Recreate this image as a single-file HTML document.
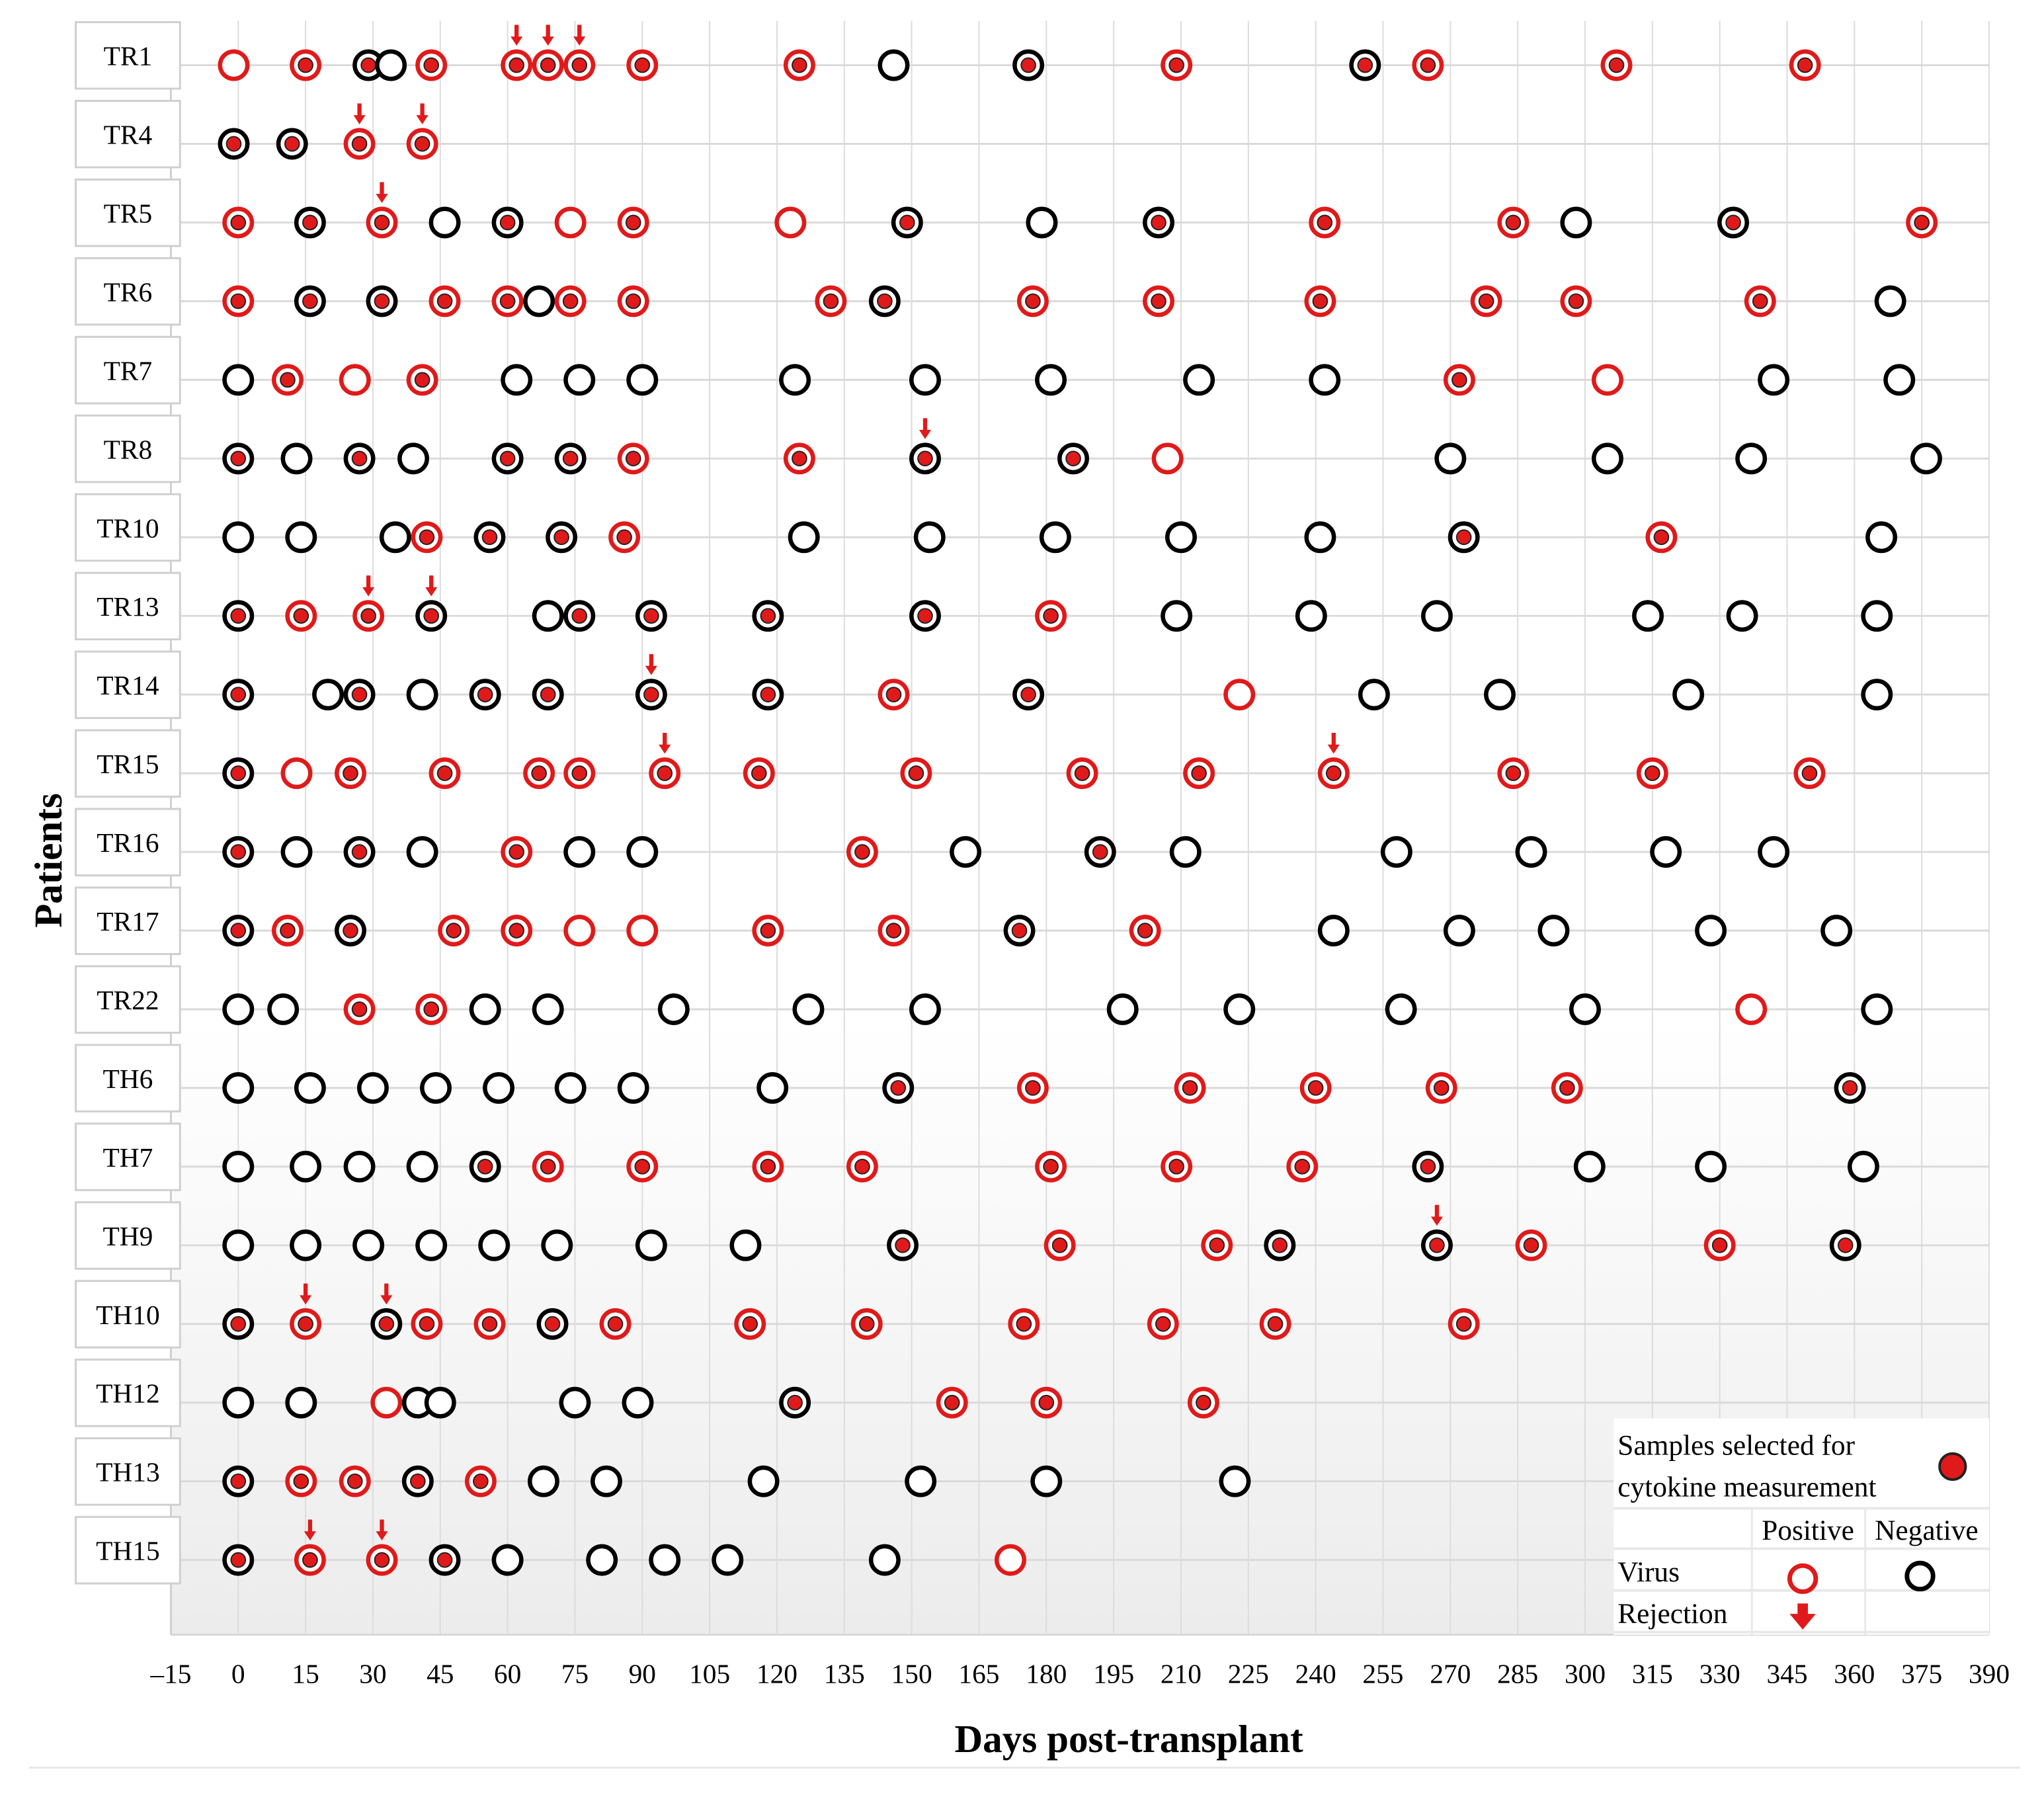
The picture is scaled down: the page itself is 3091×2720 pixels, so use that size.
<!DOCTYPE html>
<html><head><meta charset="utf-8"><style>
html,body{margin:0;padding:0;background:#fff}
svg{display:block}
text{font-family:"Liberation Serif",serif}
</style></head><body>
<svg id="chart" width="3091" height="2720" viewBox="0 0 1568 1380" xmlns="http://www.w3.org/2000/svg">
<defs>
<linearGradient id="bg" x1="0" y1="0" x2="0" y2="1">
<stop offset="0" stop-color="#ffffff"/><stop offset="0.62" stop-color="#ffffff"/><stop offset="1" stop-color="#ececec"/>
</linearGradient>
</defs>
<rect x="131" y="16" width="1395" height="1238" fill="url(#bg)"/>
<g id="grid"></g>
<g id="rows"></g>
<g id="marks"></g>
<g id="xaxis"></g>
<text x="866" y="1344" text-anchor="middle" font-size="30" font-weight="bold">Days post-transplant</text>
<text x="0" y="0" transform="translate(47,660) rotate(-90)" text-anchor="middle" font-size="30" font-weight="bold">Patients</text>
<line x1="22" y1="1356" x2="1550" y2="1356" stroke="#e6e6e6" stroke-width="1.5"/>
<g>
<rect x="1238" y="1088" width="288" height="166" fill="#fff"/>
<line x1="1238" y1="1157" x2="1526" y2="1157" stroke="#e8e8e8" stroke-width="2"/>
<line x1="1238" y1="1188" x2="1526" y2="1188" stroke="#e8e8e8" stroke-width="2"/>
<line x1="1238" y1="1220" x2="1526" y2="1220" stroke="#e8e8e8" stroke-width="2"/>
<line x1="1238" y1="1252" x2="1526" y2="1252" stroke="#e8e8e8" stroke-width="2"/>
<line x1="1344" y1="1157" x2="1344" y2="1254" stroke="#e8e8e8" stroke-width="1.5"/>
<line x1="1431" y1="1157" x2="1431" y2="1254" stroke="#e8e8e8" stroke-width="1.5"/>
<text x="1241" y="1116" font-size="22">Samples selected for</text>
<text x="1241" y="1148" font-size="22">cytokine measurement</text>
<circle cx="1498" cy="1125" r="10" fill="#e01a1a" stroke="#222" stroke-width="2"/>
<text x="1387" y="1181" text-anchor="middle" font-size="22">Positive</text>
<text x="1478" y="1181" text-anchor="middle" font-size="22">Negative</text>
<text x="1241" y="1213" font-size="22">Virus</text>
<text x="1241" y="1245" font-size="22">Rejection</text>
<circle cx="1383" cy="1211" r="10" fill="#fff" stroke="#e01a1a" stroke-width="3.5"/>
<circle cx="1473" cy="1209" r="10" fill="#fff" stroke="#000" stroke-width="3.5"/>
<path d="M1379,1230 h8 v8 h6 l-10,12 l-10,-12 h6 z" fill="#e01a1a"/>
</g>
</svg>
<script>
const patients = ["TR1","TR4","TR5","TR6","TR7","TR8","TR10","TR13","TR14","TR15","TR16","TR17","TR22","TH6","TH7","TH9","TH10","TH12","TH13","TH15"];
const sampleDays = [
 [-1,15,29,34,43,62,69,76,90,125,146,176,209,251,265,307,349],
 [-1,12,27,41],
 [0,16,32,46,60,74,88,123,149,179,205,242,284,298,333,375],
 [0,16,32,46,60,67,74,88,132,144,177,205,241,278,298,339,368],
 [0,11,26,41,62,76,90,124,153,181,214,242,272,305,342,370],
 [0,13,27,39,60,74,88,125,153,186,207,270,305,337,376],
 [0,14,35,42,56,72,86,126,154,182,210,241,273,317,366],
 [0,14,29,43,69,76,92,118,153,181,209,239,267,314,335,365],
 [0,20,27,41,55,69,92,118,146,176,223,253,281,323,365],
 [0,13,25,46,67,76,95,116,151,188,214,244,284,315,350],
 [0,13,27,41,62,76,90,139,162,192,211,258,288,318,342],
 [0,11,25,48,62,76,90,118,146,174,202,244,272,293,328,356],
 [0,10,27,43,55,69,97,127,153,197,223,259,300,337,365],
 [0,16,30,44,58,74,88,119,147,177,212,240,268,296,359],
 [0,15,27,41,55,69,90,118,139,181,209,237,265,301,328,362],
 [0,15,29,43,57,71,92,113,148,183,218,232,267,288,330,358],
 [0,15,33,42,56,70,84,114,140,175,206,231,273],
 [0,14,33,40,45,75,89,124,159,180,215],
 [0,14,26,40,54,68,82,117,152,180,222],
 [0,16,32,46,60,81,95,109,144,172]
];
// P = virus positive, N = negative, PS/NS = selected for cytokine measurement
const sampleTypes = [
 ["P","PS","NS","N","PS","PS","PS","PS","PS","PS","N","NS","PS","NS","PS","PS","PS"],
 ["NS","NS","PS","PS"],
 ["PS","NS","PS","N","NS","P","PS","P","NS","N","NS","PS","PS","N","NS","PS"],
 ["PS","NS","NS","PS","PS","N","PS","PS","PS","NS","PS","PS","PS","PS","PS","PS","N"],
 ["N","PS","P","PS","N","N","N","N","N","N","N","N","PS","P","N","N"],
 ["NS","N","NS","N","NS","NS","PS","PS","NS","NS","P","N","N","N","N"],
 ["N","N","N","PS","NS","NS","PS","N","N","N","N","N","NS","PS","N"],
 ["NS","PS","PS","NS","N","NS","NS","NS","NS","PS","N","N","N","N","N","N"],
 ["NS","N","NS","N","NS","NS","NS","NS","PS","NS","P","N","N","N","N"],
 ["NS","P","PS","PS","PS","PS","PS","PS","PS","PS","PS","PS","PS","PS","PS"],
 ["NS","N","NS","N","PS","N","N","PS","N","NS","N","N","N","N","N"],
 ["NS","PS","NS","PS","PS","P","P","PS","PS","NS","PS","N","N","N","N","N"],
 ["N","N","PS","PS","N","N","N","N","N","N","N","N","N","P","N"],
 ["N","N","N","N","N","N","N","N","NS","PS","PS","PS","PS","PS","NS"],
 ["N","N","N","N","NS","PS","PS","PS","PS","PS","PS","PS","NS","N","N","N"],
 ["N","N","N","N","N","N","N","N","NS","PS","PS","NS","NS","PS","PS","NS"],
 ["NS","PS","NS","PS","PS","NS","PS","PS","PS","PS","PS","PS","PS"],
 ["N","N","P","N","N","N","N","NS","PS","PS","PS"],
 ["NS","PS","PS","NS","PS","N","N","N","N","N","N"],
 ["NS","PS","PS","NS","N","N","N","N","N","P"]
];
const rejectionDays = [[62,69,76],[27,41],[32],[],[],[153],[],[29,43],[92],[95,244],[],[],[],[],[],[267],[15,33],[],[],[32,16]];
const xTicks = [-15,0,15,30,45,60,75,90,105,120,135,150,165,180,195,210,225,240,255,270,285,300,315,330,345,360,375,390];

const NS="http://www.w3.org/2000/svg";
const RED="#e01a1a";
function x(d){return 131+(d+15)*(1395/405);}
function y(i){return 50+i*60.35;}
function mk(tag,attrs,parent){const e=document.createElementNS(NS,tag);for(const k in attrs)e.setAttribute(k,attrs[k]);parent.appendChild(e);return e;}
const grid=document.getElementById('grid'),rows=document.getElementById('rows'),marks=document.getElementById('marks'),xaxis=document.getElementById('xaxis');
xTicks.forEach(t=>{
 const l=mk('line',{x1:x(t),x2:x(t),y1:16,y2:1254,stroke:'#dcdcdc','stroke-width':1},grid);
 
 
 const tx=mk('text',{x:x(t),y:1291,'text-anchor':'middle','font-size':21},xaxis);
 
 
 tx.textContent=t<0?('\u2013'+(-t)):String(t);
});
const bl=mk('line',{x1:131,x2:1526,y1:1254,y2:1254,stroke:'#d8d8d8','stroke-width':1.5},grid);


patients.forEach((p,i)=>{
 const yy=y(i);
 const hl=mk('line',{x1:138,x2:1526,y1:yy,y2:yy,stroke:'#dadada','stroke-width':1.5},rows);
 
 
 const r=mk('rect',{x:58,y:yy-33,width:80,height:51,fill:'#fff',stroke:'#cfcfcf','stroke-width':1.5},rows);
 
 
 const t=mk('text',{x:98,y:yy,'text-anchor':'middle','font-size':21},rows);
 
 
 t.textContent=p;
 sampleDays[i].forEach((d,j)=>{
  const ty=sampleTypes[i][j];const cx=x(d);
  const col=ty[0]==='P'?RED:'#000';
  const c=mk('circle',{cx:cx,cy:yy,r:10.5,fill:'#fff',stroke:col,'stroke-width':3.3},marks);
  
  
  if(ty.length>1){
   const dot=mk('circle',{cx:cx,cy:yy,r:5.5,fill:RED,stroke:'#222','stroke-width':1},marks);
   
   
  }
 });
 rejectionDays[i].forEach(d=>{
  const cx=x(d);
  const a=mk('path',{d:`M${cx-1.6},${yy-31} h3.2 v9 h3 l-4.6,7 l-4.6,-7 h3 z`,fill:RED},marks);
  
  
 });
});
const vl=mk('line',{x1:131,x2:131,y1:60,y2:1254,stroke:'#cfcfcf','stroke-width':1.5},grid);


</script>
</body></html>
